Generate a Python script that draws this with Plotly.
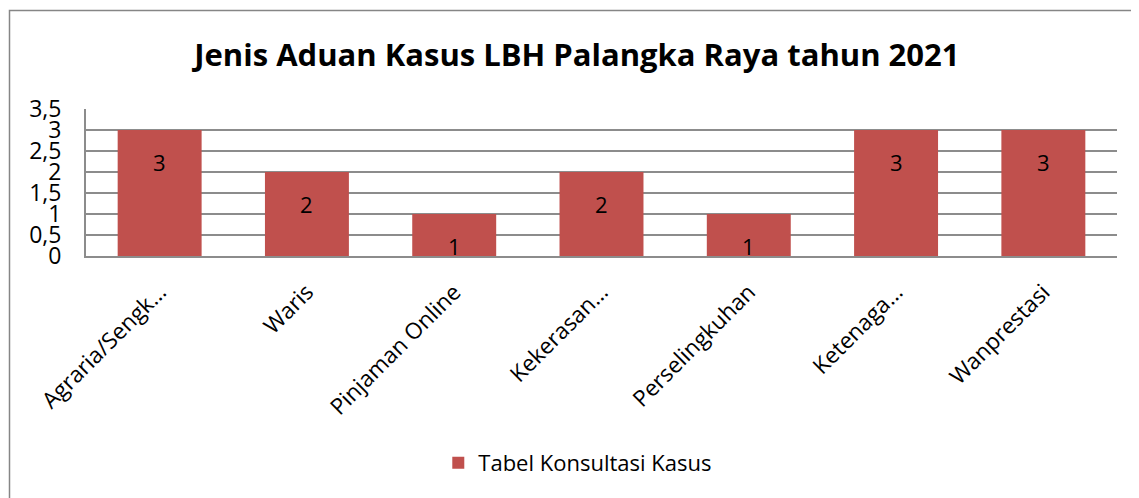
import plotly.graph_objects as go

categories = ["Agraria/Sengk…", "Waris", "Pinjaman Online", "Kekerasan…",
              "Perselingkuhan", "Ketenaga…", "Wanprestasi"]
values = [3, 2, 1, 2, 1, 3, 3]
series_name = "Tabel Konsultasi Kasus"
tick_vals = [0, 0.5, 1, 1.5, 2, 2.5, 3, 3.5]
tick_text = ["0", "0,5", "1", "1,5", "2", "2,5", "3", "3,5"]
title_text = "Jenis Aduan Kasus LBH Palangka Raya tahun 2021"

FONT = "Open Sans"
BAR = "#C0504D"
GRID = "#8C8C8C"

fig = go.Figure()
fig.add_trace(go.Bar(
    x=categories, y=values, name=series_name,
    marker=dict(color=BAR, line=dict(width=0)),
    showlegend=True,
))

for c, v in zip(categories, values):
    fig.add_annotation(x=c, y=v, text=str(v), showarrow=False,
                       yshift=-32, font=dict(family=FONT, size=22, color="#000"))

# page body has an 8px margin, so the figure is 8px smaller than the window
fig.update_layout(
    width=1131, height=490,
    margin=dict(l=78, r=22, t=101, b=242),
    paper_bgcolor="white", plot_bgcolor="white",
    bargap=0.43,
    title=dict(text="<b>" + title_text + "</b>", x=0.503, xanchor="center",
               y=1 - 47 / 490, yanchor="middle",
               font=dict(family=FONT, size=31, color="#000")),
    font=dict(family=FONT, color="#000"),
    legend=dict(orientation="h", x=0.477, xanchor="center", y=-1.408, yanchor="middle",
                font=dict(family=FONT, size=22, color="#000"), itemwidth=30),
    xaxis=dict(showline=True, linecolor=GRID, linewidth=2, tickangle=-45,
               tickfont=dict(family=FONT, size=22.5, color="#000"),
               ticklabelstandoff=12,
               showgrid=False, ticks=""),
    yaxis=dict(range=[0, 3.5], tickvals=tick_vals, ticktext=tick_text,
               showgrid=True, gridcolor=GRID, gridwidth=2,
               showline=True, linecolor=GRID, linewidth=2, zeroline=False,
               tickfont=dict(family=FONT, size=23, color="#000"),
               ticklabelstandoff=18, ticks=""),
    shapes=[dict(type="rect", xref="paper", yref="paper",
                 x0=(1.5 - 78) / 1031, x1=(1150 - 78) / 1031,
                 y0=(248 - 510) / 147, y1=(248 - 2.5) / 147,
                 line=dict(color="#868686", width=1.5), layer="below")],
)

fig.write_html("out.html")
